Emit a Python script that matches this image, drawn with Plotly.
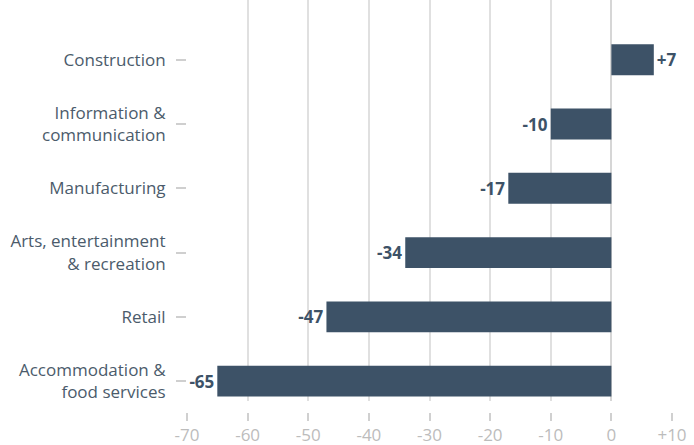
import plotly.graph_objects as go

# Change by sector (bottom to top)
sectors = [
    "Accommodation &<br>food services",
    "Retail",
    "Arts, entertainment<br>& recreation",
    "Manufacturing",
    "Information &<br>communication",
    "Construction",
]
changes = [-65, -47, -34, -17, -10, 7]
x_ticks = [-70, -60, -50, -40, -30, -20, -10, 0, 10]
x_tick_labels = ["-70", "-60", "-50", "-40", "-30", "-20", "-10", "0", "+10"]

BAR = "#3d5267"
GRID = "#e0e0e0"
FONT = "'Open Sans', sans-serif"

W, H = 694, 445
plot_bottom_px = 401
axis2_px = 412

fig = go.Figure()
fig.add_trace(go.Bar(
    x=changes,
    y=list(range(len(sectors))),
    orientation="h",
    width=0.48,
    marker=dict(color=BAR, line=dict(width=0)),
    text=[f"{v:+d}" for v in changes],
    textposition="outside",
    textfont=dict(family=FONT, size=17, color=BAR, weight="bold"),
    cliponaxis=False,
    hoverinfo="skip",
))
# invisible trace to carry the lower tick axis
fig.add_trace(go.Scatter(x=[-70, 10], y=[0, 0], xaxis="x2", mode="markers",
                         marker=dict(opacity=0), hoverinfo="skip", showlegend=False))

fig.update_layout(
    width=W, height=H,
    margin=dict(l=187, r=22, t=0, b=0),
    plot_bgcolor="white", paper_bgcolor="white",
    showlegend=False,
    font=dict(family=FONT),
    xaxis=dict(
        range=[-70, 10], tickvals=x_ticks, showticklabels=False,
        showgrid=True, gridcolor=GRID, gridwidth=1.5,
        zeroline=True, zerolinecolor="#d6d6d6", zerolinewidth=2,
        showline=False, ticks="", fixedrange=True, automargin=False,
    ),
    xaxis2=dict(
        range=[-70, 10], overlaying="x", anchor="free",
        position=(H - axis2_px) / H, side="bottom",
        tickvals=x_ticks, ticktext=x_tick_labels,
        ticks="outside", ticklen=8, tickwidth=2, tickcolor="#d0d0d0",
        tickfont=dict(family=FONT, size=17, color="#bcbcbc"),
        ticklabelstandoff=0, automargin=False,
        showgrid=False, zeroline=False, showline=False,
    ),
    yaxis=dict(
        domain=[(H - plot_bottom_px) / H, 1],
        range=[-0.31, 5.93],
        tickvals=list(range(len(sectors))), ticktext=sectors,
        ticks="outside", ticklen=10, tickwidth=2, tickcolor="#cfcfcf",
        tickfont=dict(family=FONT, size=17, color="#4b5b6b"),
        ticklabelstandoff=7, automargin=False,
        showgrid=False, zeroline=False, showline=False,
    ),
)

fig.write_html("out.html")
